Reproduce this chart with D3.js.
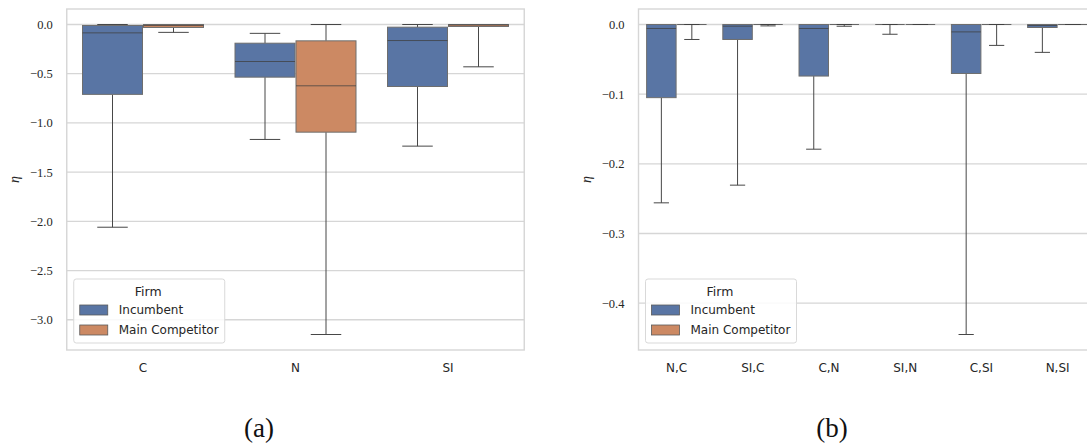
<!DOCTYPE html>
<html>
<head>
<meta charset="utf-8">
<script src="https://cdn.jsdelivr.net/npm/d3@7"></script>
<style>
  html, body { margin: 0; padding: 0; background: #fff; }
  svg { display: block; }
</style>
</head>
<body>
<svg id="chart" width="1087" height="447"></svg>
<script>
// Firms shown as hue
const firms = ["Incumbent", "Main Competitor"];
const firmColors = ["#5975a4", "#cc8963"];

// Panel (a): single-policy scenarios
const catsA = ["C", "N", "SI"];
// box stats per category: [whisker low, Q1, median, Q3, whisker high]
const incumbentA = [
  [-2.06, -0.71, -0.085, -0.01, 0.0],
  [-1.168, -0.535, -0.376, -0.19, -0.09],
  [-1.236, -0.63, -0.163, -0.027, 0.0]
];
const competitorA = [
  [-0.08, -0.03, -0.01, 0.0, 0.0],
  [-3.15, -1.094, -0.623, -0.166, 0.0],
  [-0.43, -0.02, -0.005, 0.0, 0.0]
];
const ticksA = [0.0, -0.5, -1.0, -1.5, -2.0, -2.5, -3.0];

// Panel (b): paired-policy scenarios
const catsB = ["N,C", "SI,C", "C,N", "SI,N", "C,SI", "N,SI"];
const incumbentB = [
  [-0.256, -0.105, -0.0057, 0.0, 0.0],
  [-0.2306, -0.0215, -0.0024, 0.0, 0.0],
  [-0.179, -0.074, -0.0057, 0.0, 0.0],
  [-0.014, 0.0, 0.0, 0.0, 0.0],
  [-0.445, -0.0703, -0.0106, 0.0, 0.0],
  [-0.040, -0.0043, -0.0015, 0.0, 0.0]
];
const competitorB = [
  [-0.0215, 0.0, 0.0, 0.0, 0.0],
  [-0.002, 0.0, 0.0, 0.0, 0.0],
  [-0.0025, 0.0, 0.0, 0.0, 0.0],
  [0.0, 0.0, 0.0, 0.0, 0.0],
  [-0.030, 0.0, 0.0, 0.0, 0.0],
  [0.0, 0.0, 0.0, 0.0, 0.0]
];
const ticksB = [0.0, -0.1, -0.2, -0.3, -0.4];

const svg = d3.select("#chart");
const TOP = 9, BOTTOM = 350;
const textColor = "#262626";
const gridColor = "#d6d6d6";
const lineColor = "#474747";
const serif = "'Liberation Serif', 'DejaVu Serif', serif";
const sans = "'DejaVu Sans', sans-serif";
const fmtTick = d => (d < 0 ? "\u2212" : "") + Math.abs(d).toFixed(1);

function drawPanel(opts) {
  const { cats, inc, mc, ticks, xLeft, xRight, caption, captionX } = opts;
  const g = svg.append("g");

  // pad the value range by 5% on each side
  const all = inc.concat(mc).flat();
  const lo = d3.min(all), hi = d3.max(all);
  const pad = (hi - lo) * 0.05;
  const y = d3.scaleLinear().domain([lo - pad, hi + pad]).range([BOTTOM, TOP]);
  const x = d3.scaleBand().domain(cats).range([xLeft, xRight]).paddingInner(0).paddingOuter(0);
  const hue = d3.scaleBand().domain(firms).range([0, x.bandwidth() * 0.8]);

  // grid
  g.append("g").selectAll("line").data(ticks).join("line")
    .attr("x1", xLeft).attr("x2", xRight)
    .attr("y1", d => y(d)).attr("y2", d => y(d))
    .attr("stroke", gridColor).attr("stroke-width", 1.3);

  // frame
  g.append("rect")
    .attr("x", xLeft).attr("y", TOP)
    .attr("width", xRight - xLeft).attr("height", BOTTOM - TOP)
    .attr("fill", "none").attr("stroke", gridColor).attr("stroke-width", 1.4);

  // y axis labels
  const yAxis = d3.axisLeft(y).tickValues(ticks).tickFormat(fmtTick).tickSize(0).tickPadding(14);
  const ya = g.append("g").attr("transform", `translate(${xLeft},0)`).call(yAxis);
  ya.select(".domain").remove();
  ya.attr("font-family", null).attr("font-size", null);
  ya.selectAll("text")
    .style("font-family", serif)
    .style("font-size", "12.5px")
    .attr("fill", textColor);

  // x axis labels
  const xAxis = d3.axisBottom(x).tickSize(0).tickPadding(13);
  const xa = g.append("g").attr("transform", `translate(0,${BOTTOM})`).call(xAxis);
  xa.select(".domain").remove();
  xa.attr("font-family", null).attr("font-size", null);
  xa.selectAll("text")
    .style("font-family", sans)
    .style("font-size", "12px")
    .attr("fill", textColor);

  // y label
  g.append("text")
    .attr("transform", `translate(${xLeft - 52},${(TOP + BOTTOM) / 2}) rotate(-90)`)
    .attr("text-anchor", "middle")
    .attr("dominant-baseline", "central")
    .style("font-family", serif)
    .style("font-style", "italic")
    .style("font-size", "14px")
    .attr("fill", textColor)
    .text("\u03B7");

  // boxes
  const rows = [];
  cats.forEach((c, i) => {
    rows.push({ cat: c, firm: firms[0], s: inc[i], color: firmColors[0] });
    rows.push({ cat: c, firm: firms[1], s: mc[i], color: firmColors[1] });
  });
  const bw = hue.bandwidth();
  const boxes = g.append("g").selectAll("g").data(rows).join("g")
    .attr("transform", d => `translate(${x(d.cat) + x.bandwidth() * 0.1 + hue(d.firm)},0)`);

  // whiskers
  boxes.append("line")
    .attr("x1", bw / 2).attr("x2", bw / 2)
    .attr("y1", d => y(d.s[1])).attr("y2", d => y(d.s[0]))
    .attr("stroke", lineColor).attr("stroke-width", 1);
  boxes.append("line")
    .attr("x1", bw / 2).attr("x2", bw / 2)
    .attr("y1", d => y(d.s[3])).attr("y2", d => y(d.s[4]))
    .attr("stroke", lineColor).attr("stroke-width", 1);
  // caps
  boxes.append("line")
    .attr("x1", bw / 4).attr("x2", bw * 3 / 4)
    .attr("y1", d => y(d.s[0])).attr("y2", d => y(d.s[0]))
    .attr("stroke", lineColor).attr("stroke-width", 1);
  boxes.append("line")
    .attr("x1", bw / 4).attr("x2", bw * 3 / 4)
    .attr("y1", d => y(d.s[4])).attr("y2", d => y(d.s[4]))
    .attr("stroke", lineColor).attr("stroke-width", 1);
  // box body
  boxes.append("rect")
    .attr("x", 0.5).attr("width", bw - 1)
    .attr("y", d => y(d.s[3]))
    .attr("height", d => Math.max(0, y(d.s[1]) - y(d.s[3])))
    .attr("fill", d => d.color)
    .attr("stroke", "#6e6e6e").attr("stroke-width", 1);
  // median
  boxes.append("line")
    .attr("x1", 0.5).attr("x2", bw - 0.5)
    .attr("y1", d => y(d.s[2])).attr("y2", d => y(d.s[2]))
    .attr("stroke", "#3f3f3f").attr("stroke-opacity", 0.75).attr("stroke-width", 1);

  // legend
  const lx = xLeft + 7, ly = 279;
  const lg = g.append("g").attr("transform", `translate(${lx},${ly})`);
  lg.append("rect")
    .attr("width", 151).attr("height", 64).attr("rx", 2.5)
    .attr("fill", "#ffffff").attr("fill-opacity", 0.85)
    .attr("stroke", "#d9d9d9").attr("stroke-width", 1);
  lg.append("text")
    .attr("x", 74.5).attr("y", 12)
    .attr("text-anchor", "middle").attr("dominant-baseline", "central")
    .style("font-family", sans).style("font-size", "12.5px")
    .attr("fill", textColor).text("Firm");
  const items = lg.selectAll("g.item").data(firms).join("g")
    .attr("class", "item")
    .attr("transform", (d, i) => `translate(0,${26 + i * 20})`);
  items.append("rect")
    .attr("x", 6).attr("width", 28).attr("height", 10)
    .attr("fill", (d, i) => firmColors[i])
    .attr("stroke", "#5a5a5a").attr("stroke-width", 0.8);
  items.append("text")
    .attr("x", 45).attr("y", 5)
    .attr("dominant-baseline", "central")
    .style("font-family", sans).style("font-size", "12px")
    .attr("fill", textColor).text(d => d);

  // caption
  svg.append("text")
    .attr("x", captionX).attr("y", 437)
    .attr("text-anchor", "middle")
    .style("font-family", serif)
    .style("font-size", "27px")
    .attr("fill", "#111").text(caption);
}

drawPanel({ cats: catsA, inc: incumbentA, mc: competitorA, ticks: ticksA,
  xLeft: 66.75, xRight: 524.25, caption: "(a)", captionX: 259 });
drawPanel({ cats: catsB, inc: incumbentB, mc: competitorB, ticks: ticksB,
  xLeft: 638.5, xRight: 1095.7, caption: "(b)", captionX: 832 });
</script>
</body>
</html>
